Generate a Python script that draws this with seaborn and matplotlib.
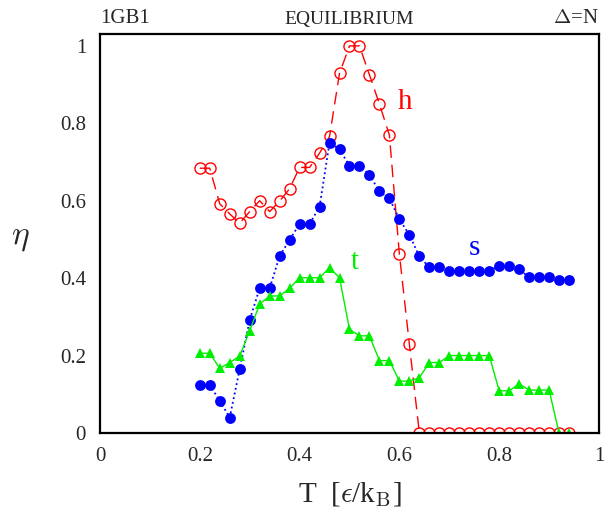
import numpy as np
import seaborn as sns
import matplotlib.pyplot as plt

# temperatures, step 0.02
T = [0.20, 0.22, 0.24, 0.26, 0.28, 0.30, 0.32, 0.34, 0.36, 0.38,
     0.40, 0.42, 0.44, 0.46, 0.48, 0.50, 0.52, 0.54, 0.56, 0.58,
     0.60, 0.62, 0.64, 0.66, 0.68, 0.70, 0.72, 0.74, 0.76, 0.78,
     0.80, 0.82, 0.84, 0.86, 0.88, 0.90, 0.92, 0.94]

h_vals = [0.684, 0.684, 0.592, 0.566, 0.542, 0.572, 0.600, 0.572, 0.599, 0.631,
          0.686, 0.686, 0.723, 0.766, 0.929, 1.000, 1.000, 0.925, 0.850, 0.769,
          0.462, 0.229, 0.0, 0.0, 0.0, 0.0, 0.0, 0.0, 0.0, 0.0,
          0.0, 0.0, 0.0, 0.0, 0.0, 0.0, 0.0, 0.0]

s_vals = [0.124, 0.124, 0.083, 0.040, 0.165, 0.292, 0.374, 0.374, 0.457, 0.499,
          0.540, 0.540, 0.584, 0.750, 0.733, 0.690, 0.690, 0.667, 0.624, 0.606,
          0.552, 0.512, 0.456, 0.428, 0.428, 0.419, 0.419, 0.419, 0.419, 0.419,
          0.432, 0.432, 0.423, 0.402, 0.402, 0.402, 0.395, 0.395]

t_vals = [0.206, 0.206, 0.167, 0.182, 0.199, 0.264, 0.333, 0.354, 0.354, 0.374,
          0.401, 0.401, 0.401, 0.427, 0.401, 0.268, 0.251, 0.251, 0.187, 0.187,
          0.134, 0.134, 0.143, 0.182, 0.182, 0.200, 0.200, 0.200, 0.200, 0.200,
          0.109, 0.109, 0.127, 0.111, 0.111, 0.111, 0.0, 0.0]

x_ticks = [0, 0.2, 0.4, 0.6, 0.8, 1]
x_labels = ["0", "0.2", "0.4", "0.6", "0.8", "1"]
y_ticks = [0, 0.2, 0.4, 0.6, 0.8, 1]
y_labels = ["0", "0.2", "0.4", "0.6", "0.8", "1"]

sns.set_style("white")
plt.rcParams["font.family"] = ["Liberation Serif", "DejaVu Serif"]
plt.rcParams["mathtext.fontset"] = "cm"

fig = plt.figure(figsize=(6.16, 5.21), dpi=100)
ax = fig.add_axes([0.1623, 0.1689, 0.8101, 0.7668])

sns.lineplot(x=T, y=h_vals, ax=ax, color="red", linestyle=(0, (9, 5)), lw=1.0,
             marker="o", markersize=8, markerfacecolor="none",
             markeredgecolor="red", markeredgewidth=1.0)
sns.lineplot(x=T, y=s_vals, ax=ax, color="blue", linestyle=":", lw=1.3,
             marker="o", markersize=7.8, markeredgewidth=0)
sns.lineplot(x=T, y=t_vals, ax=ax, color="#00ee00", linestyle="-", lw=1.0,
             marker="^", markersize=6.5, markeredgewidth=0)

ax.set_xlim(0, 1)
ax.set_ylim(0, 1.032)
ax.set_xticks(x_ticks)
ax.set_xticklabels(x_labels)
ax.set_yticks(y_ticks)
ax.set_yticklabels(y_labels)
ax.set_xticks(np.arange(0.1, 1.0, 0.2), minor=True)
ax.set_yticks(np.arange(0.1, 1.0, 0.2), minor=True)
ax.tick_params(axis="both", which="major", direction="in", length=14,
               width=1.0, color="#444444", labelsize=15, pad=10)
ax.tick_params(axis="both", which="minor", direction="in", length=7,
               width=1.0, color="#444444")

for sp in ax.spines.values():
    sp.set_color("black")
    sp.set_linewidth(1.6)

ax.set_xlabel(r"T  [$\epsilon$/k$_\mathrm{B}$]", fontsize=21, labelpad=10)
ax.set_ylabel(r"$\eta$", fontsize=24, rotation=0)
ax.yaxis.set_label_coords(-0.16, 0.45)

ax.text(0.0, 1.015, "1GB1", transform=ax.transAxes, fontsize=15,
        ha="left", va="bottom")
ax.text(0.5, 1.015, "EQUILIBRIUM", transform=ax.transAxes, fontsize=14,
        ha="center", va="bottom")
ax.text(1.0, 1.015, r"$\Delta$=N", transform=ax.transAxes, fontsize=15,
        ha="right", va="bottom")

ax.text(0.611, 0.855, "h", color="red", fontsize=21, ha="center", va="center")
ax.text(0.751, 0.478, "s", color="blue", fontsize=21, ha="center", va="center")
ax.text(0.511, 0.442, "t", color="#00ee00", fontsize=21, ha="center", va="center")

fig.savefig("out.png", dpi=100)
